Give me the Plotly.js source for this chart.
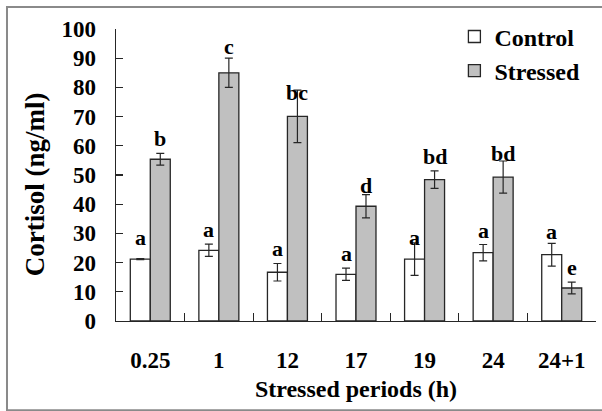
<!DOCTYPE html>
<html>
<head>
<meta charset="utf-8">
<script src="https://cdn.plot.ly/plotly-3.0.1.min.js"></script>
<style>html,body{margin:0;padding:0;background:#fff;}#chart{width:602px;height:411px;}</style>
</head>
<body>
<div id="chart"></div>
<script>
// ---- data ----
const periods = ['0.25', '1', '12', '17', '19', '24', '24+1'];
const controlMean = [21.2, 24.2, 16.7, 16.0, 21.2, 23.4, 22.7];
const controlErr  = [0.2, 2.1, 3.0, 2.1, 5.6, 2.8, 3.9];
const stressedMean = [55.4, 85.0, 70.1, 39.3, 48.4, 49.3, 11.3];
const stressedErr  = [2.0, 5.0, 9.0, 4.0, 3.0, 5.5, 2.0];
const controlLetters = ['a', 'a', 'a', 'a', 'a', 'a', 'a'];
const stressedLetters = ['b', 'c', 'bc', 'd', 'bd', 'bd', 'e'];

// ---- style ----
const FONT = 'Times New Roman, Liberation Serif, DejaVu Serif, serif';
const ink = '#262626';
const controlShift = [7, 0, 0, 0, -9, 0, -3];
const stressedShift = [0, -3, -17, -5, 0, -7, 0];

const traceControl = {
  type: 'bar', name: 'Control', x: periods, y: controlMean,
  legendgroup: 'c',
  marker: {color: '#ffffff', line: {color: ink, width: 1.3}},
  error_y: {type: 'data', array: controlErr, visible: true, color: ink, thickness: 1.2, width: 4}
};
const traceStressed = {
  type: 'bar', name: 'Stressed', x: periods, y: stressedMean,
  legendgroup: 's',
  marker: {color: '#c0c0c0', line: {color: ink, width: 1.3}},
  error_y: {type: 'data', array: stressedErr, visible: true, color: ink, thickness: 1.2, width: 4}
};

function bold(s) { return '<b>' + s + '</b>'; }

const annotations = [];
periods.forEach((p, i) => {
  annotations.push({x: i, y: controlMean[i] + controlErr[i], xref: 'x', yref: 'y',
    text: bold(controlLetters[i]), showarrow: false, xanchor: 'center', yanchor: 'bottom',
    xshift: -10, yshift: controlShift[i], font: {family: FONT, size: 22, color: '#000'}});
  annotations.push({x: i, y: stressedMean[i] + stressedErr[i], xref: 'x', yref: 'y',
    text: bold(stressedLetters[i]), showarrow: false, xanchor: 'center', yanchor: 'bottom',
    xshift: 10, yshift: stressedShift[i], font: {family: FONT, size: 22, color: '#000'}});
});
annotations.push({
  text: bold('Cortisol (ng/ml)'), xref: 'paper', yref: 'paper', x: -0.17, y: 0.47,
  xanchor: 'center', yanchor: 'middle', textangle: -90, showarrow: false,
  font: {family: FONT, size: 27, color: '#000'}
});

const layout = {
  width: 602, height: 411,
  margin: {l: 116, r: 6, t: 29, b: 90, pad: 0},
  paper_bgcolor: '#ffffff', plot_bgcolor: '#ffffff',
  barmode: 'group', bargap: 0.417, bargroupgap: 0,
  font: {family: FONT, color: '#000'},
  showlegend: true,
  legend: {x: 0.705, y: 1.05, xanchor: 'left', yanchor: 'top', bgcolor: 'rgba(0,0,0,0)',
    font: {family: FONT, size: 24, color: '#000', weight: 'bold'},
    traceorder: 'grouped', tracegroupgap: 0},
  xaxis: {
    type: 'category', range: [-0.5, 6.5], autorange: false,
    tickson: 'boundaries', ticks: 'inside', ticklen: 8, tickwidth: 1.2, tickcolor: ink,
    showline: true, linecolor: ink, linewidth: 1.3, showgrid: false, zeroline: false,
    tickangle: 0, ticklabelstandoff: 18,
    tickfont: {family: FONT, size: 23, color: '#000', weight: 'bold'},
    title: {text: 'Stressed periods (h)', standoff: 8, font: {family: FONT, size: 24, color: '#000', weight: 'bold'}}
  },
  yaxis: {
    range: [0, 100], autorange: false, dtick: 10, ticks: 'inside', ticklen: 7, tickwidth: 1.2, tickcolor: ink,
    showline: true, linecolor: ink, linewidth: 1.3, showgrid: false, zeroline: false,
    ticklabelstandoff: 14,
    tickfont: {family: FONT, size: 23, color: '#000', weight: 'bold'}
  },
  annotations: annotations,
  shapes: [{type: 'rect', xref: 'paper', yref: 'paper', x0: -0.2271, x1: 1.05, y0: -0.306, y1: 1.0754,
    line: {color: '#8a8a8a', width: 2}, fillcolor: 'rgba(0,0,0,0)', layer: 'below'}]
};

Plotly.newPlot('chart', [traceControl, traceStressed], layout, {displayModeBar: false, staticPlot: true});
</script>
</body>
</html>
